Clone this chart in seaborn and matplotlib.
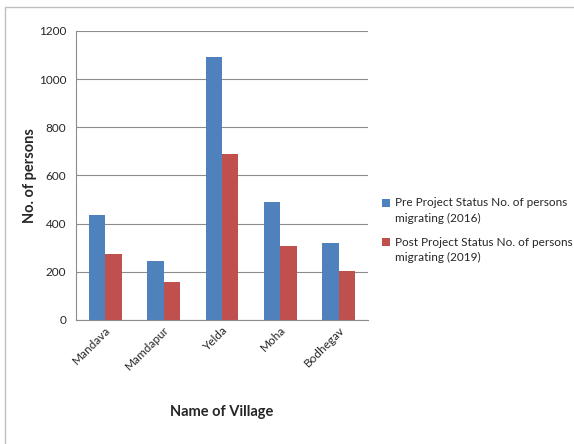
import numpy as np
import matplotlib.pyplot as plt
import seaborn as sns
import pandas as pd
from matplotlib.patches import Rectangle

villages = ["Mandava", "Mamdapur", "Yelda", "Moha", "Bodhegav"]
pre_2016 = [435, 245, 1090, 488, 320]
post_2019 = [276, 157, 690, 307, 205]
series = ["Pre Project Status No. of persons\nmigrating (2016)",
          "Post Project Status No. of persons\nmigrating (2019)"]

df = pd.DataFrame({
    "village": villages * 2,
    "persons": pre_2016 + post_2019,
    "status": [series[0]] * len(villages) + [series[1]] * len(villages),
})

sns.set_style("white")
plt.rcParams['font.family'] = ['Lato', 'DejaVu Sans']

fig = plt.figure(figsize=(5.74, 4.44), dpi=100)
ax = fig.add_axes([0.1324, 0.2793, 0.5087, 0.6509])

sns.barplot(data=df, x="village", y="persons", hue="status",
            palette=["#4F81BD", "#C0504D"], width=0.56, gap=0,
            saturation=1, linewidth=0, ax=ax)

ax.set_ylim(0, 1200)
ax.set_yticks(np.arange(0, 1201, 200))
ax.set_xlim(-0.5, len(villages) - 0.5)
ax.yaxis.grid(True, color="#8c8c8c", lw=0.8)
ax.set_axisbelow(True)
for s in ["top", "right"]:
    ax.spines[s].set_visible(False)
for s in ["left", "bottom"]:
    ax.spines[s].set_color("#8c8c8c")
ax.tick_params(axis="y", length=4, color="#8c8c8c", labelsize=8.5, pad=3)
ax.tick_params(axis="x", which="major", length=0, labelsize=8.5, pad=3)
ax.set_xticks(np.arange(-0.5, len(villages)), minor=True)
ax.tick_params(axis="x", which="minor", length=4, color="#8c8c8c")
plt.setp(ax.get_xticklabels(), rotation=45, ha="right",
         rotation_mode="anchor")

ax.set_xlabel("Name of Village", fontsize=10.5, fontweight="bold", labelpad=24)
ax.set_ylabel("No. of persons", fontsize=10.5, fontweight="bold", labelpad=1)

leg = ax.legend(loc="center left", bbox_to_anchor=(1.015, 0.31), frameon=False,
                fontsize=8.5, handlelength=0.7, handleheight=0.7,
                handletextpad=0.4, labelspacing=1.1, borderpad=0.3)
for t in leg.get_texts():
    t.set_linespacing(1.5)
# lift the colour squares to the first text line, as in the original
for p in leg.get_patches():
    p.set_y(p.get_y() + 6)

fig.patches.append(Rectangle((5 / 574, -0.1), 1.2, 1 - 7 / 444 + 0.1,
                             transform=fig.transFigure, fill=False,
                             edgecolor="#bfbfbf", lw=1))

plt.savefig("out.png", dpi=100)
